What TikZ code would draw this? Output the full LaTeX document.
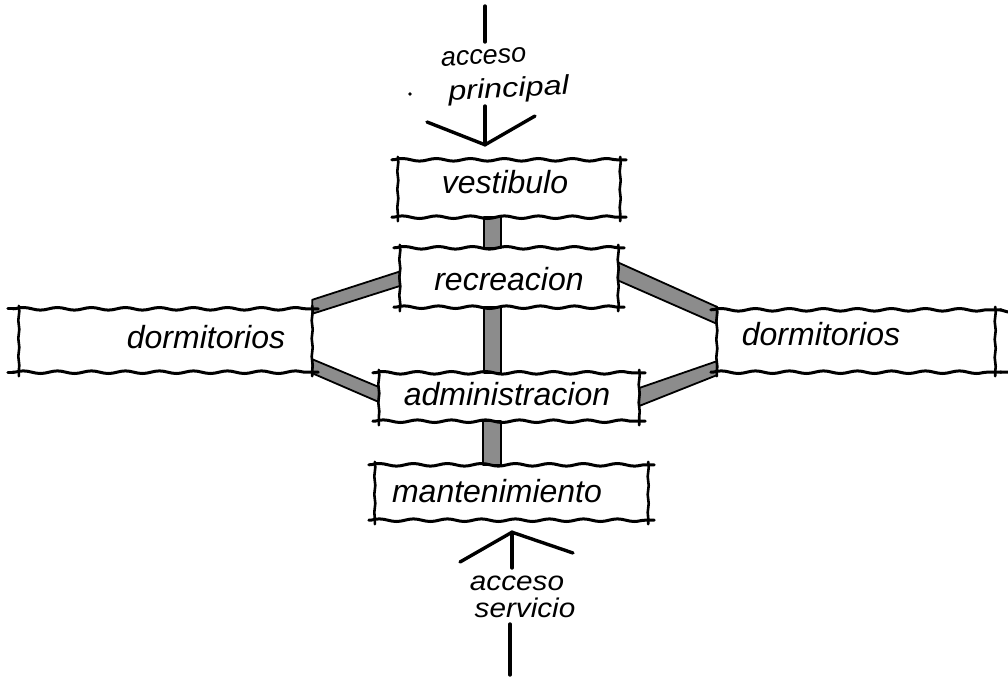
\documentclass[tikz,border=0pt]{standalone}
\usepackage{fontspec}
\newfontfamily\hand{Liberation Sans}
\usetikzlibrary{calc,decorations.pathmorphing}
\begin{document}
\begin{tikzpicture}[x=1pt,y=-1pt,
  box/.style={rectangle,draw=none,inner sep=0pt},
  hline/.style={line width=3pt,line cap=round,decorate,decoration={snake,amplitude=1.3pt,segment length=34pt}},
  vline/.style={line width=2.6pt,line cap=round,decorate,decoration={snake,amplitude=0.5pt,segment length=18pt}},
  band/.style={fill=black!45,draw=black,line width=1.8pt,line join=round},
  stroke/.style={line width=3.4pt,line cap=round,line join=round},
  txt/.style={font=\hand\itshape\fontsize{32}{36}\selectfont,inner sep=0pt,anchor=base},
  smalltxt/.style={font=\hand\itshape\fontsize{27}{30}\selectfont,inner sep=0pt,anchor=base}]
\useasboundingbox (0,0) rectangle (1008,677);

% boxes
\node[box,minimum width=222pt,minimum height=57pt] (vest)  at (509,188.5) {};
\node[box,minimum width=218pt,minimum height=59pt] (recr)  at (509,277.5) {};
\node[box,minimum width=293pt,minimum height=63pt] (dormL) at (165.5,340.5) {};
\node[box,minimum width=278pt,minimum height=62pt] (dormR) at (856,341) {};
\node[box,minimum width=260pt,minimum height=48pt] (admin) at (509,397) {};
\node[box,minimum width=273pt,minimum height=55pt] (mant)  at (511.5,492.5) {};

% bands
\filldraw[band] ($(vest.south)+(-25,0)$) rectangle ($(recr.north)+(-8,0)$);
\filldraw[band] ($(recr.south)+(-25,0)$) rectangle ($(admin.north)+(-8,0)$);
\filldraw[band] ($(admin.south)+(-26,0)$) rectangle ($(mant.north)+(-10.5,0)$);
\filldraw[band] ($(recr.west)+(0,-6)$) -- ($(recr.west)+(0,8.5)$) -- ($(dormL.north east)+(0,5)$) -- ($(dormL.north east)+(0,-9)$) -- cycle;
\filldraw[band] ($(recr.east)+(0,-15)$) -- ($(recr.east)+(0,3)$) -- ($(dormR.north west)+(0,14)$) -- ($(dormR.north west)+(0,-3)$) -- cycle;
\filldraw[band] ($(dormL.south east)+(0,-13)$) -- ($(dormL.south east)+(0,1)$) -- ($(admin.west)+(0,5)$) -- ($(admin.west)+(0,-10)$) -- cycle;
\filldraw[band] ($(admin.east)+(0,-9)$) -- ($(admin.east)+(0,9)$) -- ($(dormR.south west)+(0,3)$) -- ($(dormR.south west)+(0,-11)$) -- cycle;

% box outlines
\foreach \n in {vest,recr,dormL,dormR,admin,mant}{
  \draw[hline] ($(\n.north west)+(-6,0)$) -- ($(\n.north east)+(6,0)$);
  \draw[hline] ($(\n.south west)+(-6,0)$) -- ($(\n.south east)+(6,0)$);
  \draw[vline] ($(\n.north west)+(0,-3)$) -- ($(\n.south west)+(0,4)$);
  \draw[vline] ($(\n.north east)+(0,-3)$) -- ($(\n.south east)+(0,4)$);
}
\draw[hline] ($(dormL.north west)+(-11,0)$) -- ($(dormL.north west)+(-5,0)$);
\draw[hline] ($(dormL.south west)+(-11,0)$) -- ($(dormL.south west)+(-5,0)$);
\draw[hline] ($(dormR.north east)+(5,0)$) -- (1008,312);
\draw[hline] ($(dormR.south east)+(5,0)$) -- (1008,372);

% labels
\node[txt] (tvest)  at (505,193) {vestibulo};
\node[txt] (trecr)  at (509,290) {recreacion};
\node[txt] (tdormL) at (206,348) {dormitorios};
\node[txt] (tdormR) at (821,345) {dormitorios};
\node[txt] (tadmin) at (507,405) {administracion};
\node[txt] (tmant)  at (497,502) {mantenimiento};
\node[smalltxt,rotate=3] (tacc1) at (484,64) {acceso};
\node[smalltxt,rotate=3,xscale=1.2] (tprin) at (509,97) {principal};
\node[smalltxt,xscale=1.1] (tacc2) at (517,590) {acceso};
\node[smalltxt,xscale=1.1] (tserv) at (525,617) {servicio};

% main access
\coordinate (t1) at (485,6);
\coordinate (t2) at (485,42);
\coordinate (t3) at (485,106);
\coordinate (tA) at ($(vest.north)+(-24,-15)$);
\coordinate (tL) at (427,122);
\coordinate (tR) at (535,116);
\draw[stroke] (t1) -- (t2);
\draw[stroke] (t3) -- (tA);
\draw[stroke] (tL) -- (tA) -- (tR);
\fill (410,94) circle (1.8pt);

% service access
\coordinate (bA) at ($(mant.south)+(0.5,12)$);
\coordinate (bS) at (512,568);
\coordinate (bL) at (460,562);
\coordinate (bR) at (573,553);
\coordinate (b1) at (510,624);
\coordinate (b2) at (510,675);
\draw[stroke] (bS) -- (bA);
\draw[stroke] (bL) -- (bA) -- (bR);
\draw[stroke] (b1) -- (b2);
\end{tikzpicture}
\end{document}
